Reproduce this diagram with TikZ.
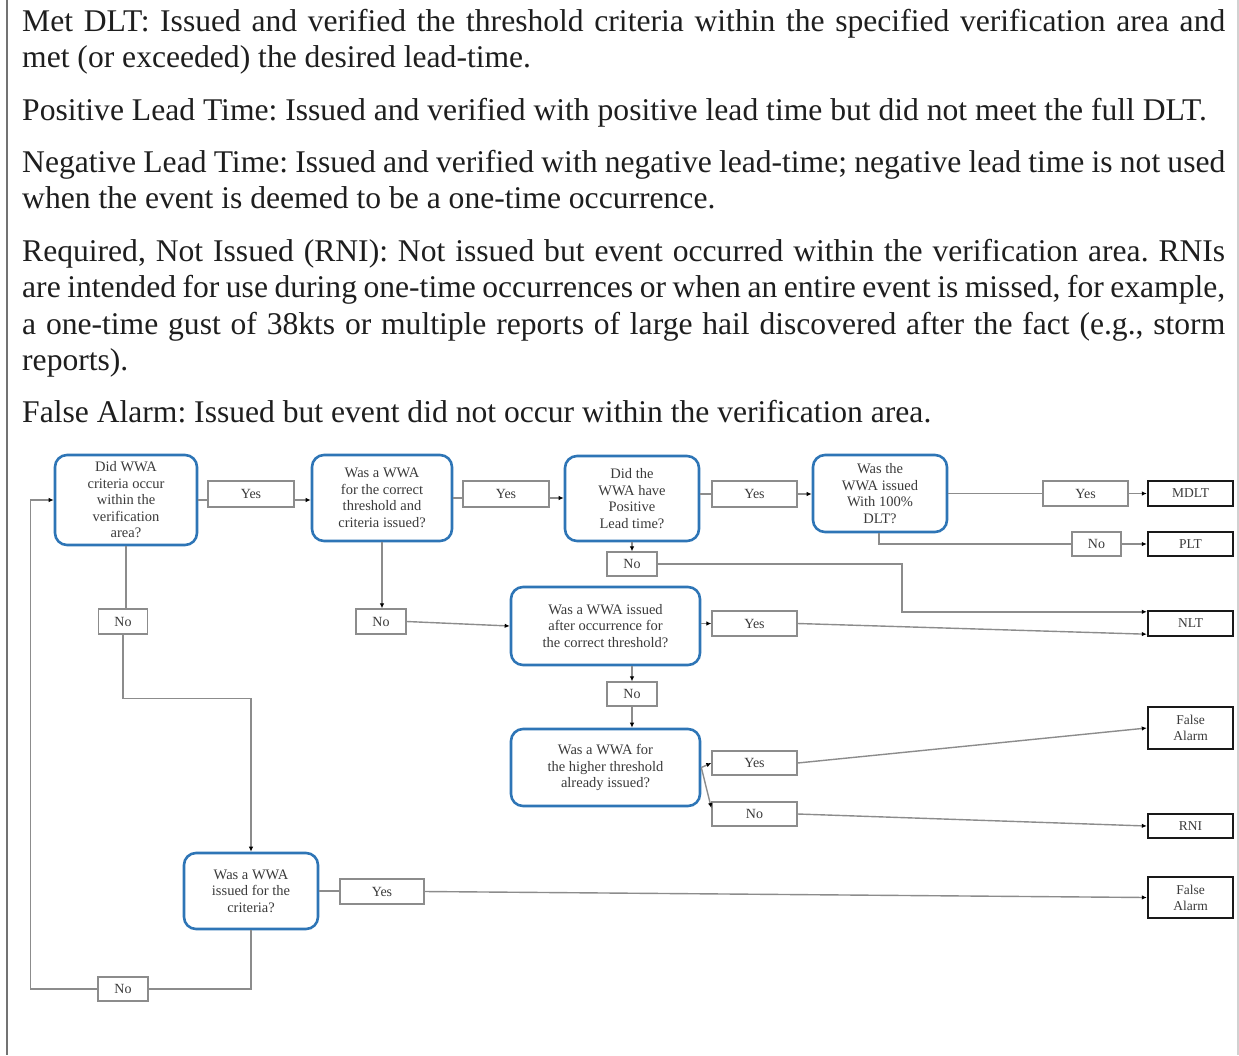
\documentclass[tikz,border=0pt]{standalone}
\usepackage{fontspec}
\setmainfont{Liberation Serif}
\usetikzlibrary{arrows.meta,calc}
\definecolor{decblue}{HTML}{2E75B6}
\definecolor{lgray}{HTML}{8C8C8C}
\definecolor{tgray}{HTML}{3A3A3A}
\definecolor{ptext}{HTML}{1E1E1E}
\frenchspacing
\begin{document}
\begin{tikzpicture}[x=1pt,y=-1pt,
  para/.style={anchor=base west,inner sep=0pt,text=ptext,font=\fontsize{31.6}{36}\selectfont},
  dec/.style={draw=decblue,line width=2.6pt,rounded corners=12pt,align=center,inner sep=0pt,
    text=tgray,font=\fontsize{14.5}{16.5}\selectfont},
  lab/.style={draw=lgray,line width=1.3pt,inner sep=0pt,text=tgray,font=\fontsize{14}{16}\selectfont},
  res/.style={draw=black!90,line width=2.4pt,inner sep=0pt,align=center,minimum width=85pt,
    text=tgray,font=\fontsize{13.5}{16}\selectfont},
  conn/.style={draw=lgray,line width=1.4pt},
  arr/.style={conn,-{Latex[length=5pt,width=4.5pt,color=black]}}
]
\useasboundingbox (0,0) rectangle (1239,1055);
% frame lines
\draw[draw=black!55,line width=2pt] (7,0) -- (7,1055);
\draw[draw=black!18,line width=1.5pt] (1238,0) -- (1238,1055);

% paragraphs
\node[para] (t1) at (22,31) {\hbox to 1203pt{Met DLT: Issued and verified the threshold criteria within the specified verification area and}};
\node[para] (t2) at (22,67) {met (or exceeded) the desired lead-time.};
\node[para] (t3) at (22,120) {Positive Lead Time: Issued and verified with positive lead time but did not meet the full DLT.};
\node[para] (t4) at (22,172) {\hbox to 1203pt{Negative Lead Time: Issued and verified with negative lead-time; negative lead time is not used}};
\node[para] (t5) at (22,208) {when the event is deemed to be a one-time occurrence.};
\node[para] (t6) at (22,261) {\hbox to 1203pt{Required, Not Issued (RNI): Not issued but event occurred within the verification area. RNIs}};
\node[para] (t7) at (22,297) {\hbox to 1203pt{are intended for use during one-time occurrences or when an entire event is missed, for example,}};
\node[para] (t8) at (22,334) {\hbox to 1203pt{a one-time gust of 38kts or multiple reports of large hail discovered after the fact (e.g., storm}};
\node[para] (t9) at (22,370) {reports).};
\node[para] (t10) at (22,422) {False Alarm: Issued but event did not occur within the verification area.};

% decision boxes
\node[dec,minimum width=142pt,minimum height=90pt] (D1) at (126,500) {Did WWA\\criteria occur\\within the\\verification\\area?};
\node[dec,minimum width=140pt,minimum height=86pt] (D2) at (382,498) {Was a WWA\\for the correct\\threshold and\\criteria issued?};
\node[dec,minimum width=134pt,minimum height=85pt] (D3) at (632,498.5) {Did the\\WWA have\\Positive\\Lead time?};
\node[dec,minimum width=134pt,minimum height=77pt] (D4) at (880,493.5) {Was the\\WWA issued\\With 100\%\\DLT?};
\node[dec,minimum width=189pt,minimum height=78pt] (D5) at (605.5,626) {Was a WWA issued\\after occurrence for\\the correct threshold?};
\node[dec,minimum width=189pt,minimum height=77pt] (D6) at (605.5,767.5) {Was a WWA for\\the higher threshold\\already issued?};
\node[dec,minimum width=134pt,minimum height=76pt] (D7) at (251,891) {Was a WWA\\issued for the\\criteria?};

% label boxes
\node[lab,minimum width=86pt,minimum height=26pt] (Y1) at (251,494) {Yes};
\node[lab,minimum width=86pt,minimum height=26pt] (Y2) at (506,494) {Yes};
\node[lab,minimum width=85pt,minimum height=26pt] (Y3) at (754.5,494) {Yes};
\node[lab,minimum width=85pt,minimum height=25pt] (Y4) at (1085.5,493.5) {Yes};
\node[lab,minimum width=49pt,minimum height=24pt] (N4) at (1096.5,544) {No};
\node[lab,minimum width=50pt,minimum height=24pt] (N3) at (632,564) {No};
\node[lab,minimum width=49pt,minimum height=25pt] (N1) at (123,621.5) {No};
\node[lab,minimum width=50pt,minimum height=25pt] (N2) at (381,621.5) {No};
\node[lab,minimum width=85pt,minimum height=25pt] (Y5) at (754.5,623.5) {Yes};
\node[lab,minimum width=50pt,minimum height=24pt] (N5) at (632,694) {No};
\node[lab,minimum width=85pt,minimum height=24pt] (Y6) at (754.5,763) {Yes};
\node[lab,minimum width=85pt,minimum height=24pt] (N6) at (754.5,814) {No};
\node[lab,minimum width=84pt,minimum height=25pt] (Y7) at (382,891.5) {Yes};
\node[lab,minimum width=50pt,minimum height=24pt] (N7) at (123,989) {No};

% result boxes
\node[res,minimum height=25pt] (MDLT) at (1190.5,493.5) {MDLT};
\node[res,minimum height=24pt] (PLT) at (1190.5,544) {PLT};
\node[res,minimum height=25pt] (NLT) at (1190.5,623.5) {NLT};
\node[res,minimum height=42pt] (FA1) at (1190.5,728) {False\\Alarm};
\node[res,minimum height=24pt] (RNI) at (1190.5,826) {RNI};
\node[res,minimum height=41pt] (FA2) at (1190.5,897.5) {False\\Alarm};

\coordinate (nltA) at ($(NLT.north west)+(0,2)$);
\coordinate (nltB) at ($(NLT.south west)+(0,-3)$);

% top row
\draw[conn] (D1.east) -- (D1.east -| Y1.west);
\draw[arr] (Y1.east |- D1.east) -- (D2.west |- D1.east);
\draw[conn] (D2.east) -- (D2.east -| Y2.west);
\draw[arr] (Y2.east |- D2.east) -- (D3.west |- D2.east);
\draw[conn] (D3.east |- Y3.east) -- (Y3.west);
\draw[arr] (Y3.east) -- (Y3.east -| D4.west);
\draw[conn] (D4.east |- Y4.west) -- (Y4.west);
\draw[arr] (Y4.east) -- (MDLT.west);
\draw[conn] ($(D4.south)+(-1,0)$) |- (N4.west);
\draw[arr] (N4.east) -- (PLT.west);

% D3 No -> NLT
\draw[arr] (D3.south) -- (N3.north);
\draw[arr] (N3.east) -| ($(nltA)+(-245,0)$) -- (nltA);

% D2 No -> D5
\draw[arr] (D2.south) -- (D2.south |- N2.north);
\draw[arr] (N2.east) -- (D5.west);
\draw[arr] (Y5.west -| D5.east) -- (Y5.west);
\draw[arr] (Y5.east) -- (nltB);
\draw[arr] (N5.north |- D5.south) -- (N5.north);
\draw[arr] (N5.south) -- (N5.south |- D6.north);

% D6
\draw[arr] (D6.east) -- (Y6.west);
\draw[arr] (D6.east) -- ($(N6.west)+(0,-6)$);
\draw[arr] (Y6.east) -- (FA1.west);
\draw[arr] (N6.east) -- (RNI.west);

% D1 No -> D7
\draw[conn] (D1.south) -- (D1.south |- N1.north);
\draw[arr] (N1.south) |- ($(D7.north)+(0,-153)$) -- (D7.north);
\draw[conn] (D7.east) -- (D7.east -| Y7.west);
\draw[arr] (Y7.east) -- (FA2.west);
\draw[conn] (D7.south) |- (N7.east);
\draw[arr] (N7.west) -| ($(D1.west)+(-23,0)$) -- (D1.west);
\end{tikzpicture}
\end{document}
